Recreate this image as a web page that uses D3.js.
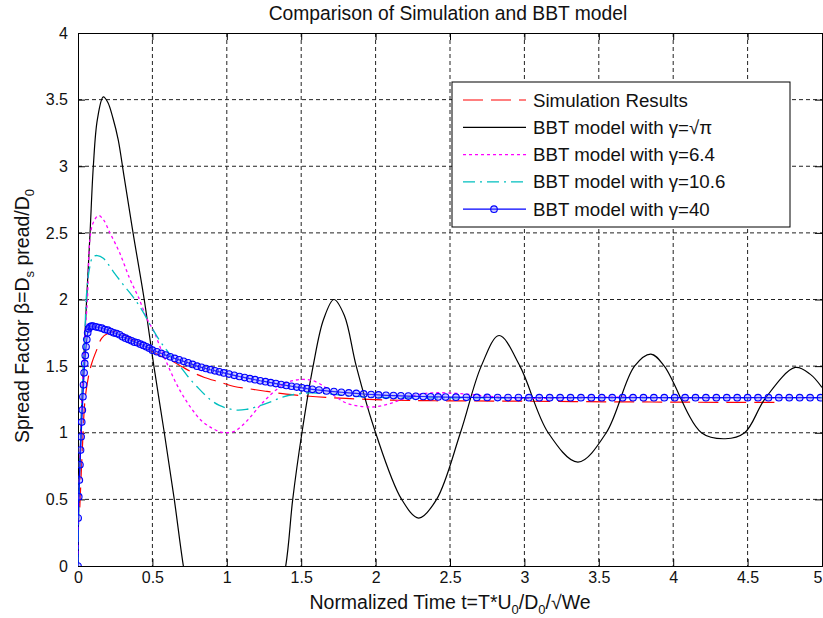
<!DOCTYPE html>
<html>
<head>
<meta charset="utf-8">
<script src="https://cdn.jsdelivr.net/npm/d3@7"></script>
<style>
  html, body { margin: 0; padding: 0; background: #fff; }
  svg { display: block; font-family: "Liberation Sans", Arial, sans-serif; }
</style>
</head>
<body>
<svg id="chart" width="823" height="618"></svg>
<script>
// axis ticks
const xTicks = [0, 0.5, 1, 1.5, 2, 2.5, 3, 3.5, 4, 4.5, 5];
const yTicks = [0, 0.5, 1, 1.5, 2, 2.5, 3, 3.5, 4];

// Simulation results (red dashed)
const simT    = [0.012, 0.03, 0.047, 0.07, 0.092, 0.125, 0.16, 0.21, 0.26, 0.32, 0.40, 0.484, 0.55, 0.62, 0.70, 0.775, 0.85, 0.954, 1.05, 1.15, 1.27, 1.40, 1.60, 1.80, 2.05, 2.40, 2.80, 3.20, 3.60, 4.00, 4.40, 4.73];
const simBeta = [0.44, 0.90, 1.245, 1.42, 1.52, 1.62, 1.71, 1.75, 1.76, 1.73, 1.67, 1.62, 1.58, 1.546, 1.495, 1.45, 1.415, 1.38, 1.347, 1.33, 1.31, 1.29, 1.27, 1.258, 1.246, 1.24, 1.238, 1.235, 1.232, 1.23, 1.228, 1.228];

// BBT model, gamma = sqrt(pi) (black solid)
const bbtSqrtPiT    = [0, 0.005, 0.015, 0.03, 0.045, 0.058, 0.081, 0.103, 0.13, 0.17, 0.20, 0.235, 0.27, 0.31, 0.37, 0.445, 0.51, 0.58, 0.647, 0.708, 0.80, 0.92, 1.05, 1.18, 1.30, 1.396, 1.443, 1.505, 1.58, 1.65, 1.72, 1.79, 1.87, 2.00, 2.175, 2.29, 2.41, 2.57, 2.71, 2.83, 2.97, 3.16, 3.36, 3.55, 3.74, 3.85, 3.94, 4.19, 4.35, 4.48, 4.62, 4.82, 4.92, 5.0];
const bbtSqrtPiBeta = [0, 0.45, 0.85, 1.35, 1.7, 2.0, 2.5, 3.0, 3.35, 3.52, 3.48, 3.36, 3.2, 2.92, 2.5, 2.0, 1.5, 1.0, 0.5, 0.0, -0.6, -1.2, -1.45, -1.2, -0.5, 0.0, 0.5, 1.0, 1.5, 1.85, 2.0, 1.88, 1.5, 1.0, 0.5, 0.36, 0.5, 1.0, 1.5, 1.73, 1.5, 1.0, 0.78, 1.0, 1.5, 1.59, 1.5, 1.0, 0.955, 1.0, 1.26, 1.49, 1.44, 1.34];

// BBT model, gamma = 6.4 (magenta dotted)
const bbt64T    = [0, 0.005, 0.015, 0.03, 0.045, 0.063, 0.08, 0.10, 0.137, 0.17, 0.215, 0.28, 0.35, 0.405, 0.466, 0.51, 0.56, 0.61, 0.66, 0.71, 0.77, 0.83, 0.90, 0.96, 1.0, 1.05, 1.10, 1.16, 1.22, 1.28, 1.34, 1.40, 1.46, 1.52, 1.58, 1.65, 1.72, 1.80, 1.90, 2.0, 2.10, 2.20, 2.30, 2.40, 2.55, 2.70, 2.85, 3.0, 3.2, 3.4, 3.6, 3.8, 4.0, 4.5, 5.0];
const bbt64Beta = [0, 0.45, 0.85, 1.35, 1.7, 2.0, 2.45, 2.57, 2.63, 2.6, 2.5, 2.35, 2.15, 2.02, 1.85, 1.76, 1.62, 1.49, 1.37, 1.27, 1.17, 1.09, 1.035, 1.005, 1.0, 1.01, 1.05, 1.12, 1.2, 1.27, 1.33, 1.375, 1.395, 1.40, 1.39, 1.35, 1.28, 1.225, 1.198, 1.195, 1.22, 1.26, 1.29, 1.30, 1.295, 1.28, 1.265, 1.258, 1.26, 1.265, 1.268, 1.265, 1.263, 1.263, 1.263];

// BBT model, gamma = 10.6 (cyan dash-dot)
const bbt106T    = [0, 0.005, 0.015, 0.03, 0.045, 0.058, 0.08, 0.10, 0.13, 0.17, 0.237, 0.305, 0.37, 0.43, 0.49, 0.55, 0.62, 0.685, 0.74, 0.80, 0.887, 0.95, 1.0, 1.066, 1.13, 1.20, 1.29, 1.38, 1.47, 1.56, 1.65, 1.75, 1.85, 2.0, 2.2, 2.5, 3.0, 4.0, 5.0];
const bbt106Beta = [0, 0.45, 0.85, 1.35, 1.7, 2.05, 2.25, 2.32, 2.33, 2.31, 2.21, 2.11, 2.02, 1.92, 1.80, 1.69, 1.585, 1.50, 1.42, 1.345, 1.25, 1.205, 1.185, 1.17, 1.175, 1.195, 1.23, 1.27, 1.29, 1.30, 1.295, 1.285, 1.275, 1.266, 1.262, 1.262, 1.263, 1.263, 1.263];

// BBT model, gamma = 40 (blue, circle markers)
const bbt40T = [0, 0.001, 0.005, 0.009, 0.013, 0.017, 0.021, 0.025, 0.029, 0.033, 0.037, 0.041, 0.045, 0.049, 0.054, 0.059, 0.065, 0.072, 0.08, 0.09, 0.10,
  0.12, 0.14, 0.16, 0.18, 0.20, 0.22, 0.24, 0.26, 0.28, 0.30, 0.32, 0.34, 0.36, 0.38, 0.40, 0.42, 0.44, 0.46, 0.48, 0.50,
  0.53, 0.56, 0.59, 0.62, 0.65, 0.68, 0.71, 0.74, 0.77, 0.80, 0.83, 0.86, 0.89, 0.92, 0.95, 0.98,
  1.015, 1.05, 1.085, 1.12, 1.155, 1.19, 1.225, 1.26, 1.295, 1.33, 1.365, 1.40, 1.435, 1.47, 1.505, 1.54, 1.575,
  1.62, 1.67, 1.72, 1.77, 1.82, 1.87, 1.92, 1.97, 2.02, 2.07, 2.12, 2.17, 2.22, 2.27, 2.32, 2.37, 2.42, 2.47,
  2.54, 2.61, 2.68, 2.75, 2.82, 2.89, 2.96, 3.03, 3.10, 3.17, 3.24, 3.31, 3.38, 3.45, 3.52, 3.59, 3.66, 3.73, 3.80,
  3.87, 3.94, 4.01, 4.08, 4.15, 4.22, 4.29, 4.36, 4.43, 4.50, 4.57, 4.64, 4.71, 4.78, 4.85, 4.92, 4.99];
const bbt40Beta = [0, 0.36, 0.52, 0.645, 0.76, 0.87, 0.97, 1.08, 1.17, 1.27, 1.36, 1.45, 1.52, 1.58, 1.645, 1.70, 1.75, 1.78, 1.795, 1.80, 1.80,
  1.795, 1.79, 1.785, 1.775, 1.77, 1.76, 1.75, 1.745, 1.735, 1.72, 1.71, 1.70, 1.69, 1.68, 1.675, 1.665, 1.655, 1.645, 1.635, 1.62,
  1.608, 1.595, 1.583, 1.57, 1.558, 1.547, 1.536, 1.525, 1.513, 1.50, 1.491, 1.482, 1.473, 1.465, 1.457, 1.449,
  1.44, 1.431, 1.422, 1.414, 1.406, 1.398, 1.39, 1.383, 1.376, 1.369, 1.362, 1.355, 1.349, 1.343, 1.337, 1.331, 1.326,
  1.32, 1.314, 1.309, 1.304, 1.299, 1.295, 1.291, 1.287, 1.284, 1.281, 1.279, 1.277, 1.275, 1.273, 1.272, 1.27, 1.269, 1.268,
  1.267, 1.266, 1.265, 1.265, 1.264, 1.264, 1.264, 1.263, 1.263, 1.263, 1.263, 1.263, 1.263, 1.263, 1.263, 1.263, 1.263, 1.263, 1.263,
  1.263, 1.263, 1.263, 1.263, 1.263, 1.263, 1.263, 1.263, 1.263, 1.263, 1.263, 1.263, 1.263, 1.263, 1.263, 1.263, 1.263];

const zip = (ts, bs) => ts.map((t, i) => ({ t: t, b: bs[i] }));

const series = [
  { name: 'Simulation Results', data: zip(simT, simBeta), color: '#ff0000', dash: '20,8', width: 1.2, curve: d3.curveCatmullRom },
  { name: 'BBT model with γ=√π', data: zip(bbtSqrtPiT, bbtSqrtPiBeta), color: '#000000', dash: null, width: 1.2, curve: d3.curveCatmullRom },
  { name: 'BBT model with γ=6.4', data: zip(bbt64T, bbt64Beta), color: '#ff00ff', dash: '3,3', width: 1.3, curve: d3.curveCatmullRom },
  { name: 'BBT model with γ=10.6', data: zip(bbt106T, bbt106Beta), color: '#00bfbf', dash: '12,5,2,5', width: 1.3, curve: d3.curveCatmullRom },
  { name: 'BBT model with γ=40', data: zip(bbt40T, bbt40Beta), color: '#0000ff', dash: null, width: 1.2, curve: d3.curveLinear, markers: true }
];

const W = 823, H = 618;
const margin = { top: 33, right: 1, bottom: 52, left: 78 };
const iw = W - margin.left - margin.right;
const ih = H - margin.top - margin.bottom;

const svg = d3.select('#chart');
const g = svg.append('g').attr('transform', `translate(${margin.left},${margin.top})`);

const x = d3.scaleLinear().domain([0, 5]).range([0, iw]);
const y = d3.scaleLinear().domain([0, 4]).range([ih, 0]);

svg.append('defs').append('clipPath').attr('id', 'clip')
  .append('rect').attr('x', 0).attr('y', 0).attr('width', iw).attr('height', ih);

// grid
g.append('g').selectAll('line').data(xTicks.slice(1, -1)).join('line')
  .attr('x1', d => x(d)).attr('x2', d => x(d)).attr('y1', 0).attr('y2', ih)
  .attr('stroke', '#222').attr('stroke-width', 1).attr('stroke-dasharray', '4,3');
g.append('g').selectAll('line').data(yTicks.slice(1, -1)).join('line')
  .attr('x1', 0).attr('x2', iw).attr('y1', d => y(d)).attr('y2', d => y(d))
  .attr('stroke', '#222').attr('stroke-width', 1).attr('stroke-dasharray', '4,3');

// axes (ticks inside, box all round)
const xAxis = d3.axisBottom(x).tickValues(xTicks).tickSize(-7).tickPadding(6).tickFormat(d3.format('~g'));
const yAxis = d3.axisLeft(y).tickValues(yTicks).tickSize(-7).tickPadding(10).tickFormat(d3.format('~g'));
const gx = g.append('g').attr('transform', `translate(0,${ih})`).call(xAxis);
const gy = g.append('g').call(yAxis);
g.append('g').call(d3.axisTop(x).tickValues(xTicks).tickSize(-7).tickFormat(''));
g.append('g').attr('transform', `translate(${iw},0)`).call(d3.axisRight(y).tickValues(yTicks).tickSize(-7).tickFormat(''));
svg.selectAll('.domain').attr('stroke', '#000');
svg.selectAll('.tick line').attr('stroke', '#000');
[gx, gy].forEach(a => a.selectAll('text')
  .attr('font-family', '"Liberation Sans", Arial, sans-serif')
  .attr('font-size', 16).attr('fill', '#111'));
// last x label sits on the figure edge; keep it inside
gx.selectAll('.tick').filter(d => d === 5).select('text').attr('text-anchor', 'end').attr('dx', 0);

// lines
const plot = g.append('g').attr('clip-path', 'url(#clip)');
series.forEach(s => {
  const line = d3.line().x(d => x(d.t)).y(d => y(d.b)).curve(s.curve);
  plot.append('path').datum(s.data)
    .attr('d', line)
    .attr('fill', 'none')
    .attr('stroke', s.color)
    .attr('stroke-width', s.width)
    .attr('stroke-dasharray', s.dash);
  if (s.markers) {
    plot.append('g').selectAll('circle').data(s.data).join('circle')
      .attr('cx', d => x(d.t)).attr('cy', d => y(d.b)).attr('r', 3.3)
      .attr('fill', 'rgba(110,110,255,0.35)')
      .attr('stroke', s.color).attr('stroke-width', 1.1);
  }
});

// legend
const leg = g.append('g').attr('transform', `translate(${452 - margin.left},${82 - margin.top})`);
leg.append('rect').attr('width', 338).attr('height', 145)
  .attr('fill', '#fff').attr('stroke', '#000').attr('stroke-width', 1);
series.forEach((s, i) => {
  const ry = 18 + i * 27.3;
  leg.append('line').attr('x1', 11).attr('x2', 74).attr('y1', ry).attr('y2', ry)
    .attr('stroke', s.color).attr('stroke-width', s.width).attr('stroke-dasharray', s.dash);
  if (s.markers) {
    leg.append('circle').attr('cx', 42).attr('cy', ry).attr('r', 3.3)
      .attr('fill', 'rgba(110,110,255,0.35)').attr('stroke', s.color).attr('stroke-width', 1.1);
  }
  leg.append('text').attr('x', 81).attr('y', ry + 6.5)
    .attr('font-size', 18.7).attr('fill', '#111').text(s.name);
});

// title
svg.append('text').attr('x', margin.left + iw / 2 - 2).attr('y', 20)
  .attr('text-anchor', 'middle').attr('font-size', 19.3).attr('fill', '#111')
  .text('Comparison of Simulation and BBT model');

// x label
const xl = svg.append('text').attr('x', margin.left + iw / 2).attr('y', 609)
  .attr('text-anchor', 'middle').attr('font-size', 19.5).attr('fill', '#111');
xl.append('tspan').text('Normalized Time t=T*U');
xl.append('tspan').attr('font-size', 13).attr('dy', 5).text('0');
xl.append('tspan').attr('dy', -5).text('/D');
xl.append('tspan').attr('font-size', 13).attr('dy', 5).text('0');
xl.append('tspan').attr('dy', -5).text('/√We');

// y label
const yl = svg.append('text').attr('transform', 'translate(29,316) rotate(-90)')
  .attr('text-anchor', 'middle').attr('font-size', 19.5).attr('fill', '#111');
yl.append('tspan').text('Spread Factor β=D');
yl.append('tspan').attr('font-size', 13).attr('dy', 5).text('s');
yl.append('tspan').attr('dy', -5).text(' pread/D');
yl.append('tspan').attr('font-size', 13).attr('dy', 5).text('0');
</script>
</body>
</html>
